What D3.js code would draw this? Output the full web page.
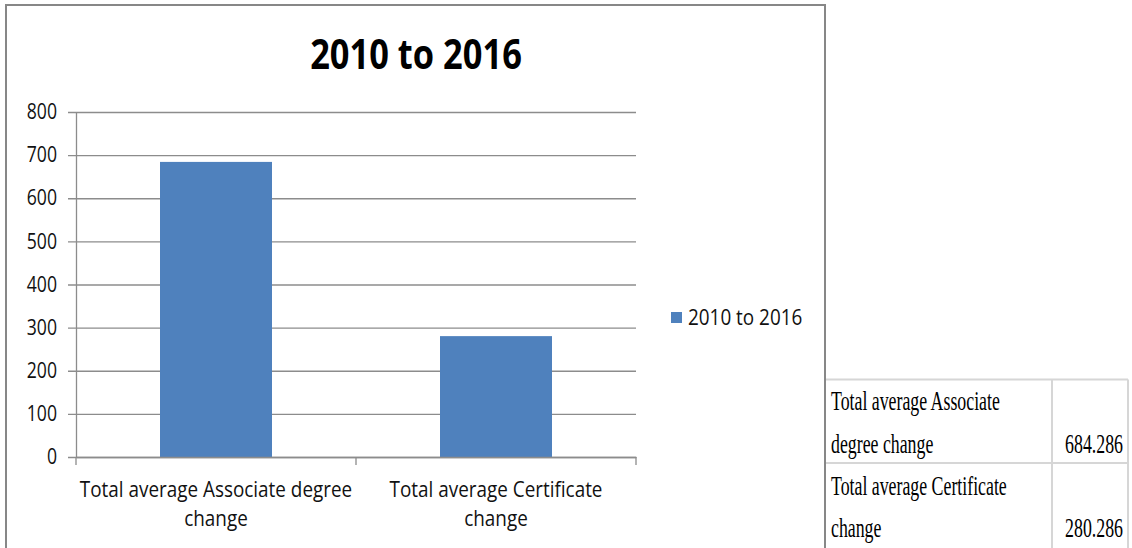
<!DOCTYPE html>
<html>
<head>
<meta charset="utf-8">
<script src="https://cdn.jsdelivr.net/npm/d3@7"></script>
<style>
  html, body { margin: 0; padding: 0; background: #fff; }
  svg { display: block; }
</style>
</head>
<body>
<svg id="chart" width="1132" height="548"></svg>
<script>
// Chart data
const title = "2010 to 2016";
const seriesName = "2010 to 2016";
const categories = ["Total average Associate degree change", "Total average Certificate change"];
const categoryLines = [["Total average Associate degree", "change"], ["Total average Certificate", "change"]];
const values = [684.286, 280.286];
const yTicks = [0, 100, 200, 300, 400, 500, 600, 700, 800];

// Side table
const tableLabelLines = [["Total average Associate", "degree change"], ["Total average Certificate", "change"]];
const tableValues = ["684.286", "280.286"];

const svg = d3.select("#chart");
const sans = "'Open Sans', 'Noto Sans', sans-serif";
const serif = "'Liberation Serif', 'DejaVu Serif', serif";
const titleSqueeze = 0.84;
const tickSqueeze = 0.84;
const labelSqueeze = 0.9;
const serifSqueeze = 0.66;
const barColor = "#4f81bd";
const gridColor = "#8c8c8c";

// Chart frame
svg.append("rect")
  .attr("x", 6).attr("y", 5).attr("width", 819).attr("height", 600)
  .attr("fill", "none").attr("stroke", "#878787").attr("stroke-width", 2);

// Title
svg.append("text")
  .attr("transform", `translate(416,69) scale(${titleSqueeze},1)`)
  .attr("text-anchor", "middle")
  .style("font-family", sans).style("font-weight", 700).style("font-size", "41px")
  .attr("fill", "#000")
  .text(title);

// Plot area
const plot = { left: 76, right: 636, top: 112, bottom: 457 };

const y = d3.scaleLinear().domain([0, 800]).range([plot.bottom, plot.top]);
const x = d3.scaleBand().domain(categories).range([plot.left, plot.right])
  .paddingInner(0.6).paddingOuter(0.3);

// Value axis with gridlines
const yAxis = svg.append("g")
  .attr("transform", `translate(${plot.left},0)`)
  .call(d3.axisLeft(y).tickValues(yTicks).tickSizeInner(-(plot.right - plot.left)).tickSizeOuter(0).tickPadding(19));
yAxis.select(".domain").attr("stroke", gridColor).attr("stroke-width", 1.3);
yAxis.selectAll(".tick line").attr("x1", -8).attr("stroke", gridColor).attr("stroke-width", 1.3);
yAxis.selectAll(".tick text")
  .attr("x", -19 / tickSqueeze)
  .attr("transform", `scale(${tickSqueeze},1)`)
  .style("font-family", sans).style("font-size", "21px").attr("fill", "#111");

// Bars
svg.append("g").selectAll("rect")
  .data(values)
  .join("rect")
  .attr("x", (d, i) => x(categories[i]))
  .attr("y", d => y(d))
  .attr("width", x.bandwidth())
  .attr("height", d => y(0) - y(d))
  .attr("fill", barColor);

// Category axis
const xAxis = svg.append("g")
  .attr("transform", `translate(0,${plot.bottom})`)
  .call(d3.axisBottom(x).tickSize(0).tickSizeOuter(0));
xAxis.select(".domain").attr("stroke", gridColor).attr("stroke-width", 1.3);
xAxis.selectAll(".tick text")
  .attr("y", 40).attr("dy", null)
  .attr("transform", `scale(${labelSqueeze},1)`)
  .style("font-family", sans).style("font-size", "21px").attr("fill", "#111")
  .text(null)
  .each(function (d, i) {
    d3.select(this).selectAll("tspan")
      .data(categoryLines[i])
      .join("tspan")
      .attr("x", 0)
      .attr("y", (t, k) => 40 + k * 29)
      .text(t => t);
  });

// Tick marks between categories
const gap = (x.step() - x.bandwidth()) / 2;
const bounds = categories.map(c => x(c) - gap).concat([x(categories[categories.length - 1]) + x.bandwidth() + gap]);
xAxis.selectAll(".bound")
  .data(bounds)
  .join("line")
  .attr("class", "bound")
  .attr("x1", d => d).attr("x2", d => d)
  .attr("y1", 0).attr("y2", 8)
  .attr("stroke", gridColor).attr("stroke-width", 1.3);

// Legend
const legend = svg.append("g").attr("transform", "translate(671,312)");
legend.append("rect").attr("width", 11).attr("height", 11).attr("fill", barColor);
legend.append("text")
  .attr("transform", `translate(17,13) scale(${labelSqueeze},1)`)
  .style("font-family", sans).style("font-size", "21px").attr("fill", "#111")
  .text(seriesName);

// Side table
const table = svg.append("g");
const tableColor = "#d6d6d6";
const tbl = { left: 826, mid: 1052, right: 1128, rows: [379.5, 463] };
tbl.rows.forEach(ry => {
  table.append("line").attr("x1", tbl.left).attr("x2", tbl.right)
    .attr("y1", ry).attr("y2", ry).attr("stroke", tableColor).attr("stroke-width", 2);
});
[tbl.mid, tbl.right].forEach(cx => {
  table.append("line").attr("x1", cx).attr("x2", cx)
    .attr("y1", tbl.rows[0]).attr("y2", 548).attr("stroke", tableColor).attr("stroke-width", 2);
});
// chart frame edge drawn over the table's left border
svg.append("line").attr("x1", 825).attr("x2", 825).attr("y1", 4).attr("y2", 548)
  .attr("stroke", "#878787").attr("stroke-width", 2);

const rowBase = [[410, 453], [495, 537]];
tableLabelLines.forEach((lines, r) => {
  lines.forEach((t, k) => {
    table.append("text")
      .attr("transform", `translate(831,${rowBase[r][k]}) scale(${serifSqueeze},1)`)
      .style("font-family", serif).style("font-size", "27px").attr("fill", "#000")
      .text(t);
  });
  table.append("text")
    .attr("transform", `translate(1123,${rowBase[r][1]}) scale(${serifSqueeze},1)`)
    .attr("text-anchor", "end")
    .style("font-family", serif).style("font-size", "27px").attr("fill", "#000")
    .text(tableValues[r]);
});
</script>
</body>
</html>
